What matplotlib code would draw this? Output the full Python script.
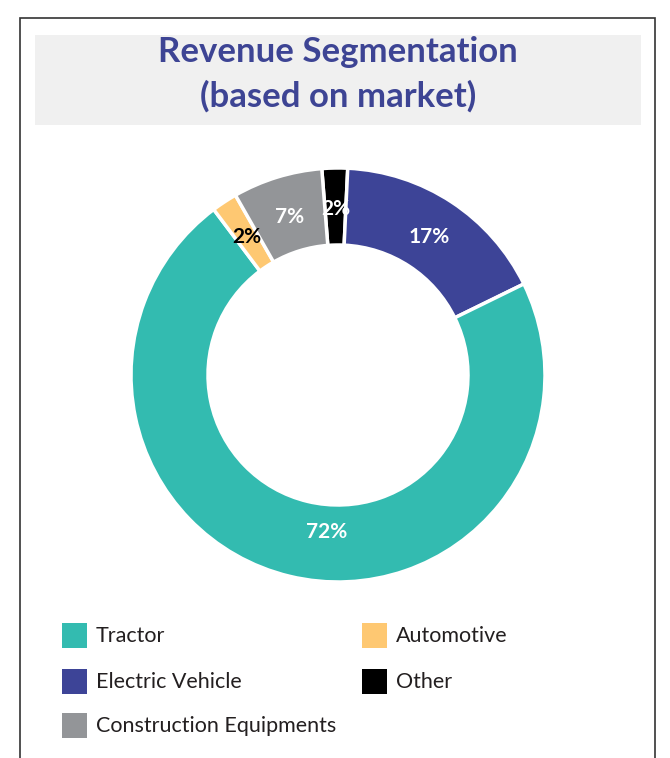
"""
Revenue segmentation donut chart (based on market).
"""

import matplotlib.pyplot as plt
from matplotlib.patches import Rectangle

W, H = 670, 758

# Slices in drawing order (clockwise from the top)
SEGMENTS = ["Other", "Electric Vehicle", "Tractor", "Automotive", "Construction Equipments"]
SHARES = [2, 17, 72, 2, 7]
LABELS = ["2%", "17%", "72%", "2%", "7%"]
COLORS = ["#000000", "#3d4497", "#33bbb0", "#fec872", "#939598"]
LABEL_COLORS = ["white", "white", "white", "black", "white"]

# Legend order (two columns)
LEGEND_ORDER = ["Tractor", "Automotive", "Electric Vehicle", "Other", "Construction Equipments"]

TITLE_COLOR = "#3d4494"
FONT = ["Lato", "DejaVu Sans"]

fig = plt.figure(figsize=(W / 100, H / 100), dpi=100)
ax = fig.add_axes([0, 0, 1, 1])


def up(y):
    # convert a top-down pixel position to axes coords
    return H - y


# Frame and title box
ax.add_patch(Rectangle((20, up(800)), 635, 782, facecolor="white",
                       edgecolor="#333333", linewidth=1.2, zorder=0))
ax.add_patch(Rectangle((35, up(125)), 606, 90, facecolor="#f0f0f0",
                       edgecolor="none", zorder=1))
ax.text(338, up(52), "Revenue Segmentation", ha="center", va="center",
        fontsize=25, fontweight="bold", color=TITLE_COLOR, family=FONT)
ax.text(338, up(96), "(based on market)", ha="center", va="center",
        fontsize=25, fontweight="bold", color=TITLE_COLOR, family=FONT)

# Donut
radius = 207
wedges, texts = ax.pie(
    SHARES,
    labels=LABELS,
    colors=COLORS,
    startangle=94.5,
    counterclock=False,
    center=(338, up(375)),
    radius=radius,
    labeldistance=0.8,
    wedgeprops=dict(width=radius * 0.372, edgecolor="white", linewidth=2.5),
    textprops=dict(fontsize=15, fontweight="bold", family=FONT),
)
for t, c in zip(texts, LABEL_COLORS):
    t.set_color(c)
    t.set_ha("center")
    t.set_va("center")
# the tractor label sits closer to the bottom of the ring
texts[2].set_position((327, up(532)))

# Legend
handles = dict(zip(SEGMENTS, COLORS))
row_y = [636, 682, 726]
for i, name in enumerate(LEGEND_ORDER):
    col, row = i % 2, i // 2
    x = 62 + col * 300
    y = row_y[row]
    ax.add_patch(Rectangle((x, up(y + 12)), 25, 25, facecolor=handles[name],
                           edgecolor="none"))
    ax.text(x + 34, up(y), name, ha="left", va="center", fontsize=15.5,
            color="#231f20", family=FONT)

ax.set_xlim(0, W)
ax.set_ylim(0, H)
ax.set_aspect("auto")
ax.axis("off")

fig.savefig("out.png", dpi=100)
